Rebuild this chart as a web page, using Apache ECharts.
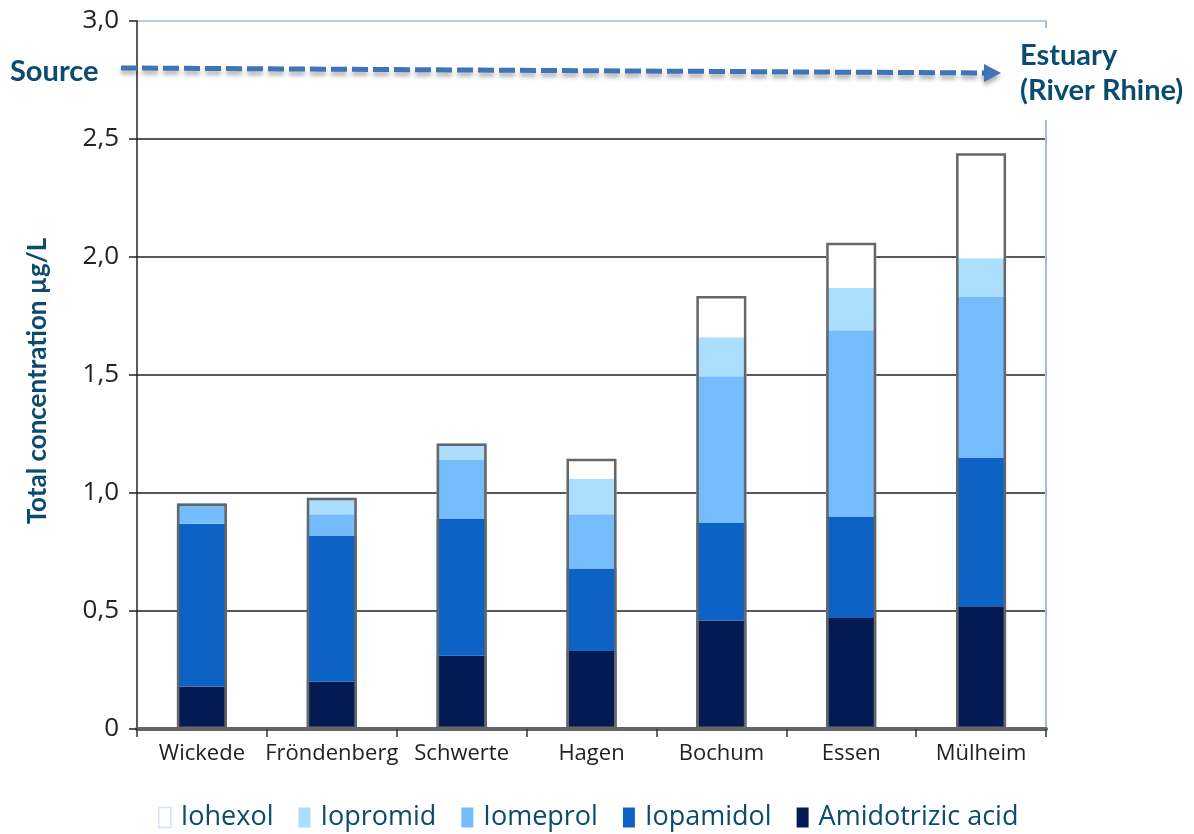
<!DOCTYPE html>
<html>
<head>
<meta charset="utf-8">
<script src="https://cdn.jsdelivr.net/npm/echarts@6/dist/echarts.min.js"></script>
<style>
html,body{margin:0;padding:0;background:#fff;}
#chart{width:1194px;height:834px;}
</style>
</head>
<body>
<div id="chart"></div>
<script>
const categories = ['Wickede', 'Fröndenberg', 'Schwerte', 'Hagen', 'Bochum', 'Essen', 'Mülheim'];
const amidotrizic = [0.18, 0.20, 0.31, 0.33, 0.46, 0.47, 0.52];
const iopamidol   = [0.69, 0.62, 0.58, 0.35, 0.415, 0.43, 0.63];
const iomeprol    = [0.085, 0.09, 0.25, 0.23, 0.62, 0.79, 0.68];
const iopromid    = [0, 0.07, 0.07, 0.15, 0.165, 0.18, 0.165];
const iohexol     = [0, 0, 0, 0.085, 0.175, 0.19, 0.445];
const yTicks = [0, 0.5, 1.0, 1.5, 2.0, 2.5, 3.0];

const totals = categories.map((c, i) => +(amidotrizic[i] + iopamidol[i] + iomeprol[i] + iopromid[i] + iohexol[i]).toFixed(3));

const chart = echarts.init(document.getElementById('chart'), null, {renderer: 'canvas'});
const teal = '#0b4b6f';
const BW = 50;

function seg(name, data, color) {
  return {
    name: name, type: 'bar', stack: 'total', data: data, barWidth: BW, barGap: '-100%',
    itemStyle: {color: color}, emphasis: {disabled: true}, silent: true
  };
}

const option = {
  animation: false,
  backgroundColor: '#ffffff',
  grid: {left: 137, right: 148, top: 21, bottom: 105, containLabel: false},
  xAxis: {
    type: 'category', data: categories,
    axisLine: {show: true, lineStyle: {color: '#666', width: 4}},
    axisTick: {show: true, length: 8, lineStyle: {color: '#333', width: 1.5}},
    axisLabel: {interval: 0, fontFamily: 'Open Sans', fontSize: 22, color: '#222', margin: 14}
  },
  yAxis: [{
    type: 'value', min: yTicks[0], max: yTicks[yTicks.length - 1], interval: 0.5,
    axisLine: {show: true, lineStyle: {color: '#222', width: 1.5}},
    axisTick: {show: true, inside: false, length: 8, lineStyle: {color: '#222', width: 1.5}},
    axisLabel: {
      fontFamily: 'Open Sans', fontSize: 26, color: '#222', margin: 18,
      formatter: v => v === 0 ? '0' : v.toFixed(1).replace('.', ',')
    },
    splitLine: {show: true, lineStyle: {color: ['#222', '#222', '#222', '#222', '#222', '#222', '#a4bcdc'], width: 1.5}}
  }, {
    type: 'value', position: 'right', min: 0, max: 3, interval: 0.5,
    axisLine: {show: true, lineStyle: {color: '#a4bcdc', width: 2}},
    axisTick: {show: false}, axisLabel: {show: false}, splitLine: {show: false}
  }],
  legend: {
    left: 153, top: 799, icon: 'rect', itemWidth: 12, itemHeight: 20, itemGap: 25,
    selectedMode: false,
    textStyle: {fontFamily: 'Open Sans', fontSize: 27, color: teal, padding: [0, 0, 0, 5]},
    data: [
      {name: 'Iohexol', itemStyle: {color: '#ffffff', borderColor: '#cfe3f5', borderWidth: 1.5}},
      {name: 'Iopromid'},
      {name: 'Iomeprol'},
      {name: 'Iopamidol'},
      {name: 'Amidotrizic acid'}
    ]
  },
  series: [
    seg('Amidotrizic acid', amidotrizic, '#031a52'),
    seg('Iopamidol', iopamidol, '#0d62c6'),
    seg('Iomeprol', iomeprol, '#74bcfc'),
    seg('Iopromid', iopromid, '#abddff'),
    seg('Iohexol', iohexol, '#ffffff'),
    {
      name: 'Total', type: 'bar', data: totals, barWidth: BW, barGap: '-100%', z: 5,
      itemStyle: {color: 'rgba(0,0,0,0)', borderColor: '#666', borderWidth: 2.5},
      emphasis: {disabled: true}, silent: true
    }
  ],
  graphic: [
    {type: 'rect', z: 100, shape: {x: 1038, y: 28, width: 16, height: 92}, style: {fill: '#ffffff'}},
    {type: 'line', z: 100, shape: {x1: 121, y1: 68, x2: 986, y2: 73},
     style: {stroke: '#3f74b6', lineWidth: 5, lineDash: [16, 5], shadowBlur: 4, shadowOffsetY: 4, shadowColor: 'rgba(0,0,0,0.3)'}},
    {type: 'polygon', z: 100, shape: {points: [[984, 64], [1001, 73], [984, 82]]},
     style: {fill: '#3f74b6', shadowBlur: 4, shadowOffsetY: 4, shadowColor: 'rgba(0,0,0,0.3)'}},
    {type: 'text', z: 100, style: {text: 'Source', x: 10, y: 72, font: 'bold 29px Lato', fill: teal, textVerticalAlign: 'middle'}},
    {type: 'text', z: 100, style: {text: 'Estuary', x: 1020, y: 56, font: 'bold 29px Lato', fill: teal, textVerticalAlign: 'middle'}},
    {type: 'text', z: 100, style: {text: '(River Rhine)', x: 1020, y: 91, font: 'bold 29px Lato', fill: teal, textVerticalAlign: 'middle'}},
    {type: 'text', z: 100, x: 38, y: 381, rotation: Math.PI / 2,
     style: {text: 'Total concentration µg/L', x: 0, y: 0, font: 'bold 26px Lato', fill: teal, textAlign: 'center', textVerticalAlign: 'middle'}}
  ]
};
chart.setOption(option);
</script>
</body>
</html>
